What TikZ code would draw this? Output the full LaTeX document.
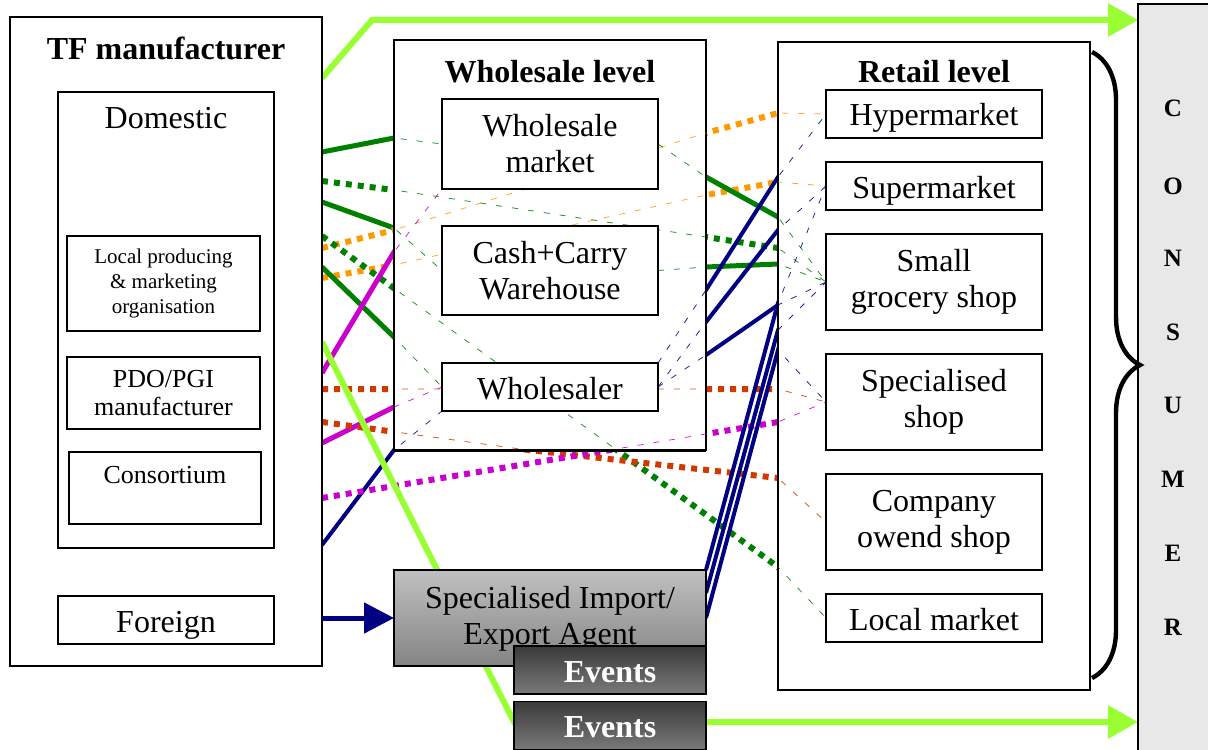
\documentclass[tikz,border=0pt]{standalone}
\usepackage{fontspec}
\setmainfont{Liberation Serif}
\usetikzlibrary{arrows.meta,decorations.pathreplacing}
\definecolor{gcol}{RGB}{0,128,0}
\definecolor{ocol}{RGB}{255,153,0}
\definecolor{rcol}{RGB}{208,58,0}
\definecolor{mcol}{RGB}{204,0,204}
\definecolor{ncol}{RGB}{0,0,128}
\definecolor{lgcol}{RGB}{153,255,51}
\definecolor{conscol}{RGB}{232,232,232}
\definecolor{agtop}{RGB}{192,192,192}
\definecolor{agbot}{RGB}{132,132,132}
\definecolor{evtop}{RGB}{58,58,58}
\definecolor{evbot}{RGB}{122,122,122}
\pgfdeclarelayer{lines}\pgfdeclarelayer{conts}\pgfdeclarelayer{hidden}
\pgfsetlayers{lines,conts,hidden,main}
\newcommand\drawroute[2]{%
  \begin{pgfonlayer}{lines}\draw[#1] #2;\end{pgfonlayer}%
  \begin{pgfonlayer}{hidden}\begin{scope}
    \clip (whl.north west) rectangle (whl.south east) (ret.north west) rectangle (ret.south east);
    \draw[#1,hid] #2;
  \end{scope}\end{pgfonlayer}}
\begin{document}
\begin{tikzpicture}[x=0.5pt,y=-0.5pt,
  box/.style={draw, line width=1pt, fill=white, outer sep=0pt, inner sep=0pt, align=center, font=\fontsize{16}{18}\selectfont},
  oneline/.style={text height=15.5pt, text depth=3.5pt},
  cont/.style={draw, line width=1pt, fill=white, outer sep=0pt, inner sep=0pt},
  ttl/.style={font=\fontsize{16}{18}\selectfont\bfseries, inner sep=0pt},
  lbl/.style={font=\fontsize{16}{18}\selectfont, inner sep=0pt},
  gsolid/.style={gcol, line width=2.5pt},
  gdot/.style={gcol, line width=3pt, dash pattern=on 3pt off 3pt},
  odot/.style={ocol, line width=3pt, dash pattern=on 3pt off 3pt},
  rdot/.style={rcol, line width=3pt, dash pattern=on 3pt off 3pt},
  mdot/.style={mcol, line width=3pt, dash pattern=on 3pt off 3pt},
  msolid/.style={mcol, line width=2.5pt},
  nsolid/.style={ncol, line width=2pt},
  lgline/.style={lgcol, line width=3pt, -{Triangle[length=15pt,width=16pt]}},
  hid/.style={line width=0.4pt, dash pattern=on 3pt off 5pt, opacity=0.85},
  shadebox/.style={draw, line width=0.8pt, outer sep=0pt, inner sep=0pt, align=center, font=\fontsize{16}{18}\selectfont},
]
\useasboundingbox (0,0) rectangle (1208,749);

% containers
\begin{pgfonlayer}{conts}
\node[cont, minimum width=156pt, minimum height=324.5pt] (tf) at (166,341.5) {};
\node[cont, minimum width=156pt, minimum height=205pt] (whl) at (550,245) {};
\node[cont, minimum width=156pt, minimum height=324pt] (ret) at (934,366) {};
\end{pgfonlayer}
\draw[line width=1.5pt] (whl.south west) -- (whl.south east);

% TF manufacturer
\node[ttl] (tft) at (166,48) {TF manufacturer};
\node[box, minimum width=108pt, minimum height=228pt] (dom) at (166,320) {};
\node[lbl] (domt) at (166,118) {Domestic};
\node[box, minimum width=96.5pt, minimum height=47.5pt, font=\fontsize{10.5}{12.3}\selectfont] (lpm) at (163.5,283.5) {Local producing\\\& marketing\\organisation};
\node[box, minimum width=96.5pt, minimum height=36pt, font=\fontsize{13}{14}\selectfont] (pdo) at (163.5,393) {PDO/PGI\\manufacturer};
\node[box, minimum width=96pt, minimum height=36pt] (cons) at (165,488) {};
\node[font=\fontsize{13}{14}\selectfont, inner sep=0pt] (const) at (165,475) {Consortium};
\node[box, oneline, minimum width=108pt, minimum height=24pt] (foreign) at (166,620) {Foreign};

% wholesale level
\node[ttl] (whlt) at (550,72) {Wholesale level};
\node[box, minimum width=108pt, minimum height=45pt] (wm) at (550,144) {Wholesale\\market};
\node[box, minimum width=108pt, minimum height=44.5pt] (cc) at (550,270.5) {Cash+Carry\\Warehouse};
\node[box, oneline, minimum width=108pt, minimum height=24pt] (wsr) at (550,387) {Wholesaler};

% retail level
\node[ttl] (rett) at (934,72) {Retail level};
\node[box, oneline, minimum width=108pt, minimum height=24pt] (hyp) at (934,114) {Hypermarket};
\node[box, oneline, minimum width=108pt, minimum height=24pt] (sup) at (934,186) {Supermarket};
\node[box, minimum width=108pt, minimum height=48pt] (sgs) at (934,282) {Small\\grocery shop};
\node[box, minimum width=108pt, minimum height=48pt] (sps) at (934,402) {Specialised\\shop};
\node[box, minimum width=108pt, minimum height=48pt] (cos) at (934,522) {Company\\owend shop};
\node[box, oneline, minimum width=108pt, minimum height=24pt] (lmk) at (934,618) {Local market};

% agent and events
\node[shadebox, minimum width=156pt, minimum height=48pt, top color=agtop, bottom color=agbot] (agent) at (550,618) {};
\node[lbl, align=center] (agentt) at (550,619) {Specialised Import/\\Export Agent};
\node[shadebox, oneline, minimum width=96pt, minimum height=24pt, top color=evtop, bottom color=evbot, text=white, font=\fontsize{16}{18}\selectfont\bfseries] (ev1) at (610,670) {Events};
\node[shadebox, oneline, minimum width=96pt, minimum height=24pt, top color=evtop, bottom color=evbot, text=white, font=\fontsize{16}{18}\selectfont\bfseries] (ev2) at (610,725.5) {Events};

% consumer
\node[draw, line width=0.8pt, fill=conscol, outer sep=0pt, minimum width=36pt, minimum height=374pt] (consumer) at (1174,378) {};
\foreach \l/\yy in {C/108,O/186,N/258,S/332,U/405,M/479,E/553,R/627}
  \node[font=\fontsize{12.5}{14}\selectfont\bfseries, inner sep=0pt] (cl\l) at (1173,\yy) {\l};

% brace
\coordinate (br1) at (1092,52);
\coordinate (br2) at (1092,678);
\draw[line width=2.2pt, decorate, decoration={brace, amplitude=24pt}] (br1) -- (br2);

% coordinates of connectors
\coordinate (a0) at (322,78);   \coordinate (a0b) at (372,20);
\coordinate (a1) at (322,152);  \coordinate (a1w) at (394,138);
\coordinate (a2) at (322,181);  \coordinate (a2w) at (394,190); \coordinate (a2x) at (706,237); \coordinate (a2r) at (778,248);
\coordinate (a3) at (322,202);  \coordinate (a3w) at (394,228);
\coordinate (a4) at (322,248);  \coordinate (a4w) at (394,230); \coordinate (a4x) at (706,133); \coordinate (a4r) at (778,113);
\coordinate (a5) at (322,278);  \coordinate (a5w) at (394,265); \coordinate (a5x) at (706,195); \coordinate (a5r) at (778,182);
\coordinate (a6) at (322,236);  \coordinate (a6r) at (778,567);
\coordinate (a7) at (322,267);  \coordinate (a7w) at (394,337);
\coordinate (a8) at (322,373);  \coordinate (a8w) at (394,252);
\coordinate (a9) at (322,389);  \coordinate (a9r) at (778,389);
\coordinate (a10) at (322,443); \coordinate (a10w) at (394,407);
\coordinate (a11) at (322,422); \coordinate (a11b) at (520,449); \coordinate (a11r) at (778,478);
\coordinate (a12) at (322,545);
\coordinate (a13) at (322,498); \coordinate (a13r) at (778,422);
\coordinate (a14) at (322,342); \coordinate (a14b) at (514,722);
\coordinate (b1x) at (706,177); \coordinate (b1r) at (778,217);
\coordinate (b2x) at (706,267); \coordinate (b2r) at (778,264);
\coordinate (b3x) at (706,290); \coordinate (b3r) at (778,177);
\coordinate (b4x) at (706,322); \coordinate (b4r) at (778,230);
\coordinate (b5x) at (706,355); \coordinate (b5r) at (778,305);
\coordinate (c2) at (706,593);  \coordinate (c1r) at (778,303);
\coordinate (c2r) at (778,330); \coordinate (c3r) at (778,350);

% connectors
\drawroute{gsolid}{(a1) -- (a1w) -- (wm.west)}
\drawroute{gdot}{(a2) -- (a2w) -- (a2x) -- (a2r) -- (sgs.west)}
\drawroute{gsolid}{(a3) -- (a3w) -- (cc.west)}
\drawroute{odot}{(a4) -- (a4w) -- (a4x) -- (a4r) -- (hyp.west)}
\drawroute{odot}{(a5) -- (a5w) -- (a5x) -- (a5r) -- (sup.west)}
\drawroute{gdot}{(a6) -- (a6r) -- (lmk.west)}
\drawroute{gsolid}{(a7) -- (a7w) -- (wsr.west)}
\drawroute{msolid}{(a8) -- (a8w) -- (wm.south west)}
\drawroute{rdot}{(a9) -- (a9r) -- (sps.west)}
\drawroute{msolid}{(a10) -- (a10w) -- (wsr.west)}
\drawroute{rdot}{(a11) -- (a11b) -- (a11r) -- (cos.west)}
\drawroute{nsolid}{(a12) -- (whl.south west) -- (wsr.south west)}
\drawroute{mdot}{(a13) -- (a13r) -- (sps.west)}
\drawroute{gsolid}{(wm.east) -- (b1x) -- (b1r) -- (sgs.west)}
\drawroute{gsolid}{(cc.east) -- (b2x) -- (b2r) -- (sgs.west)}
\drawroute{nsolid}{(wsr.north east) -- (b3x) -- (b3r) -- (hyp.west)}
\drawroute{nsolid}{(wsr.east) -- (b4x) -- (b4r) -- (sup.west)}
\drawroute{nsolid}{(wsr.east) -- (b5x) -- (b5r) -- (sgs.west)}
\drawroute{nsolid}{(agent.north east) -- (c1r) -- (sup.west)}
\drawroute{nsolid}{(c2) -- (c2r) -- (sgs.west)}
\drawroute{nsolid}{(agent.east) -- (c3r) -- (sps.west)}

\begin{pgfonlayer}{lines}
\draw[lgline] (a0) -- (a0b) -- (consumer.west |- a0b);
\draw[lgline] (a14) -- (a14b) -- (consumer.west |- a14b);
\end{pgfonlayer}
\draw[ncol, line width=2.5pt, -{Triangle[length=15pt,width=15pt]}] (tf.east |- agent.west) -- (agent.west);
\end{tikzpicture}
\end{document}
